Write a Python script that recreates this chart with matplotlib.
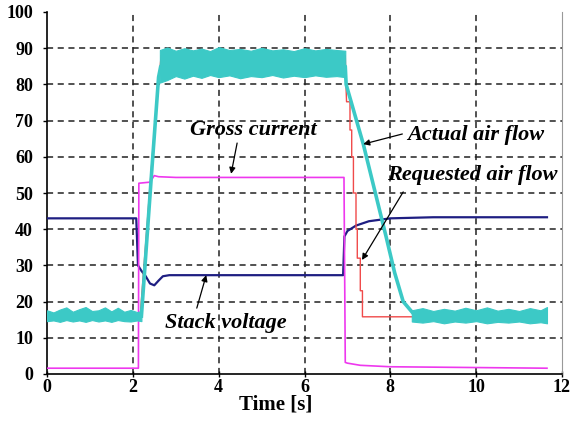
import numpy as np
import matplotlib
matplotlib.use("Agg")
import matplotlib.pyplot as plt

plt.rcParams['font.family'] = ['Liberation Serif', 'DejaVu Serif']
plt.rcParams['font.weight'] = 'bold'

# stack voltage
volt_t = [0, 2.08, 2.12, 2.2, 2.3, 2.4, 2.5, 2.6, 2.7, 2.85, 6.9, 6.93, 7.0, 7.2, 7.5, 8.0, 9.0, 11.65]
volt_v = [43, 43, 30, 28.5, 27, 25, 24.5, 25.8, 27, 27.3, 27.3, 38, 39.5, 41, 42.2, 43, 43.3, 43.3]

# gross current
cur_t = [0, 2.13, 2.14, 2.4, 2.5, 2.6, 3.0, 6.92, 6.95, 7.0, 7.3, 8.0, 11.65]
cur_v = [1.6, 1.6, 52.7, 53, 54.8, 54.5, 54.3, 54.3, 3.2, 3.0, 2.4, 2.0, 1.6]

# requested air flow (stepped)
req_t = [0, 2.17, 2.42, 2.52, 2.66, 6.95, 6.97, 6.98, 7.06, 7.06, 7.1, 7.1, 7.14, 7.14, 7.2, 7.2,
         7.23, 7.23, 7.3, 7.3, 7.35, 7.35, 11.6]
req_v = [15.8, 15.8, 55, 70, 88, 88, 78.5, 75.2, 75.2, 67.4, 67.4, 60, 60, 50, 50, 40,
         40, 32, 32, 23, 23, 15.8, 15.8]

# actual air flow: ramps as a line, noisy plateaus as envelopes
air_t = [2.2, 2.44, 2.6, 2.65, 6.95, 6.97, 7.37, 7.9, 8.1, 8.3, 8.55]
air_v = [16, 56, 82, 85, 85, 80, 63.5, 38, 28, 20, 16.5]
low1_t = [0, 0.15, 0.3, 0.45, 0.6, 0.75, 0.9, 1.05, 1.2, 1.35, 1.5, 1.65, 1.8, 1.95, 2.1, 2.2]
low1_lo = [14.6, 14.8, 14.4, 14.9, 14.5, 14.8, 14.4, 14.9, 14.5, 14.8, 14.4, 14.9, 14.6, 14.5, 14.8, 14.6]
low1_hi = [17.6, 17.0, 17.8, 18.4, 17.2, 17.9, 18.5, 17.4, 17.6, 18.4, 17.3, 18.3, 17.2, 17.7, 17.1, 17.4]
high_t = [2.63, 2.8, 3.0, 3.2, 3.4, 3.6, 3.8, 4.0, 4.25, 4.5, 4.75, 5.0, 5.25, 5.5, 5.75, 6.0, 6.25, 6.5, 6.75, 6.95]
high_lo = [80.5, 81.2, 82.3, 81.6, 82.4, 81.8, 82.6, 82.0, 82.5, 81.7, 82.3, 82.0, 82.6, 81.9, 82.4, 82.0, 82.5, 82.1, 82.3, 82.0]
high_hi = [89.5, 90.2, 89.3, 90.0, 89.4, 89.9, 89.2, 90.3, 89.5, 89.8, 89.3, 90.1, 89.4, 89.7, 89.2, 90.0, 89.4, 89.8, 89.5, 89.3]
low2_t = [8.5, 8.75, 9.0, 9.25, 9.5, 9.75, 10.0, 10.25, 10.5, 10.75, 11.0, 11.25, 11.5, 11.65]
low2_lo = [14.5, 14.2, 14.6, 14.0, 14.5, 14.2, 14.6, 14.0, 14.4, 14.2, 14.5, 14.0, 14.3, 14.0]
low2_hi = [17.6, 18.2, 17.4, 18.0, 17.5, 18.3, 17.6, 18.4, 17.5, 18.0, 17.4, 18.2, 17.6, 18.5]

cyan = '#3cc9c6'
navy = '#1e1e82'
magenta = '#ee38ee'
red = '#f04a4a'

fig = plt.figure(figsize=(5.71, 4.32), dpi=100)
ax = fig.add_axes([47/571, 58/432, 515/571, 362/432])

ax.plot(volt_t, volt_v, color=navy, lw=1.6, zorder=3)
ax.plot(cur_t, cur_v, color=magenta, lw=1.2, zorder=3)
ax.plot(req_t, req_v, color=red, lw=1.0, zorder=4)
ax.plot(air_t, air_v, color=cyan, lw=2.6, zorder=5)
for t, lo, hi in [(low1_t, low1_lo, low1_hi), (high_t, high_lo, high_hi), (low2_t, low2_lo, low2_hi)]:
    ax.fill_between(t, lo, hi, color=cyan, lw=0.8, edgecolor=cyan, zorder=5)

ax.set_xlim(0, 12)
ax.set_ylim(0, 100)
ax.set_xticks(range(0, 13, 2))
ax.set_yticks(range(0, 101, 10))
for v in range(2, 12, 2):
    ax.axvline(v, color='#222222', lw=1.1, ls=(0, (4, 3)), zorder=1)
for v in range(10, 100, 10):
    ax.axhline(v, color='#222222', lw=1.1, ls=(0, (4, 3)), zorder=1)

ax.spines['top'].set_visible(False)
ax.spines['right'].set_color('#999999')
ax.spines['right'].set_linewidth(0.8)
ax.spines['left'].set_linewidth(1.2)
ax.spines['bottom'].set_linewidth(1.2)
ax.tick_params(axis='x', direction='inout', length=5, width=1, pad=1, labelsize=13)
ax.tick_params(axis='y', direction='out', length=3, width=1, pad=7, labelsize=13)

fig.text(276/571, 1 - 405/432, 'Time [s]', fontsize=15, fontweight='bold', ha='center', va='center')

txt = dict(fontsize=16, fontweight='bold', fontstyle='italic', ha='center', va='center', zorder=6)
arr = dict(arrowstyle='-|>', color='black', lw=0.9, mutation_scale=9, shrinkA=0, shrinkB=0)
ax.text(4.8, 67.4, 'Gross current', **txt)
ax.annotate('', xy=(4.29, 55.3), xytext=(4.43, 63.8), arrowprops=arr, zorder=6)
ax.text(9.98, 66, 'Actual air flow', **txt)
ax.annotate('', xy=(7.37, 63.5), xytext=(8.28, 66.3), arrowprops=arr, zorder=6)
ax.text(9.9, 55, 'Requested air flow', **txt)
ax.annotate('', xy=(7.34, 31.5), xytext=(8.3, 50.3), arrowprops=arr, zorder=6)
ax.text(4.17, 14.1, 'Stack voltage', **txt)
ax.annotate('', xy=(3.71, 27.3), xytext=(3.49, 18.2), arrowprops=arr, zorder=6)

fig.savefig('out.png', dpi=100)
